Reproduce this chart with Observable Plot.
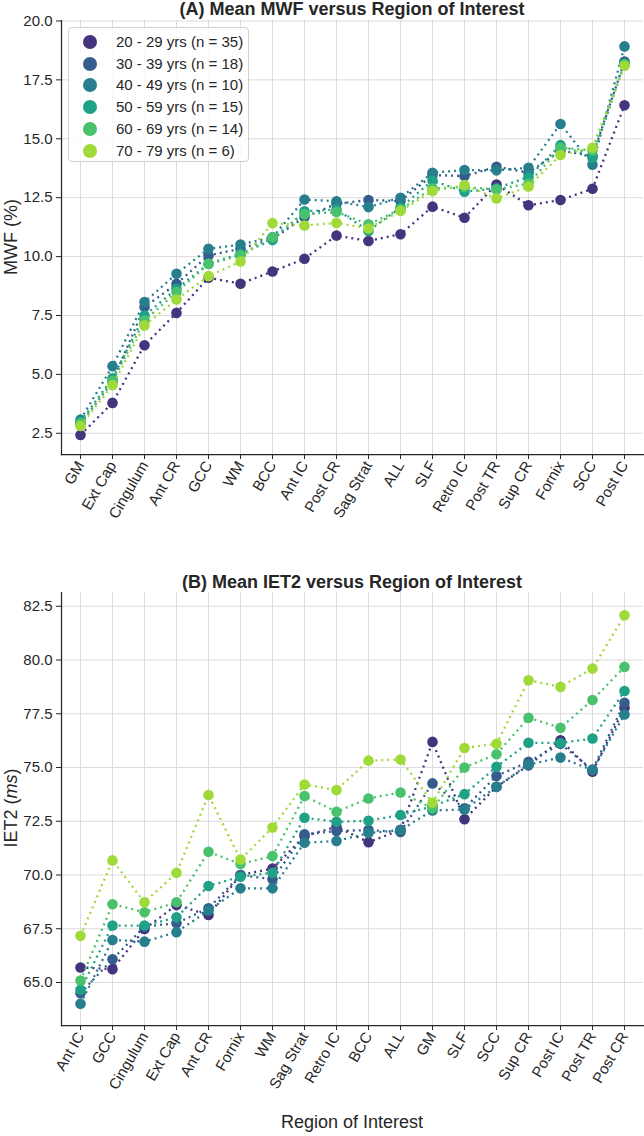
<!DOCTYPE html>
<html><head><meta charset="utf-8">
<script src="https://cdn.jsdelivr.net/npm/d3@7"></script>
<script src="https://cdn.jsdelivr.net/npm/@observablehq/plot@0.6"></script>
<style>
body{margin:0;background:#fff;font-family:"Liberation Sans",Arial,sans-serif;color:#262626}
#wrap{position:relative;width:644px;height:1136px;overflow:hidden}
.title{position:absolute;left:61px;width:582px;text-align:center;font-weight:bold;font-size:18px;line-height:18px;color:#262626}
.ylab{position:absolute;width:240px;height:22px;line-height:22px;text-align:center;font-size:18px;transform:rotate(-90deg);white-space:nowrap;color:#262626}
.xlab{position:absolute;left:61px;width:582px;text-align:center;font-size:18px;line-height:22px;color:#262626}
.panel{position:absolute;left:0}
#legend{position:absolute;left:68px;top:27px;width:181px;height:135px;border:1px solid #d0d0d0;border-radius:4px;background:rgba(255,255,255,0.85);box-sizing:border-box}
.lrow{position:absolute;left:0;height:22px;line-height:22px;font-size:15px;white-space:nowrap}
.lrow span.dot{position:absolute;left:14px;top:4px;width:14px;height:14px;border-radius:50%}
.lrow span.txt{position:absolute;left:47px;top:0}
</style></head>
<body><div id="wrap"></div>
<script>
// ---------- data ----------
const groups = ["20 - 29 yrs (n = 35)","30 - 39 yrs (n = 18)","40 - 49 yrs (n = 10)","50 - 59 yrs (n = 15)","60 - 69 yrs (n = 14)","70 - 79 yrs (n = 6)"];
const colors = ["#46337e","#365c8d","#277f8e","#1fa187","#4ac16d","#a0da39"];

const regionsA = ["GM","Ext Cap","Cingulum","Ant CR","GCC","WM","BCC","Ant IC","Post CR","Sag Strat","ALL","SLF","Retro IC","Post TR","Sup CR","Fornix","SCC","Post IC"];
const mwf2029 = [2.43,3.79,6.24,7.61,9.10,8.85,9.37,9.91,10.89,10.66,10.95,12.12,11.65,13.06,12.18,12.40,12.88,16.42];
const mwf3039 = [2.90,4.70,7.86,8.84,10.05,10.33,10.75,11.67,12.24,12.40,12.36,13.46,13.42,13.81,13.56,14.50,14.27,18.28];
const mwf4049 = [3.08,5.35,8.07,9.27,10.33,10.51,10.82,12.42,12.35,12.10,12.50,13.56,13.67,13.66,13.77,15.63,13.90,18.92];
const mwf5059 = [2.99,4.83,7.50,8.63,9.70,10.12,10.70,11.92,12.00,11.09,12.08,13.23,12.75,12.90,13.38,14.73,14.20,18.20];
const mwf6069 = [2.92,4.72,7.29,8.49,9.69,10.05,10.82,11.80,11.89,11.37,12.00,12.90,12.95,12.85,13.10,14.62,14.50,18.15];
const mwf7079 = [2.81,4.54,7.08,8.18,9.17,9.79,11.42,11.32,11.43,11.19,11.94,12.78,13.04,12.47,12.97,14.31,14.62,18.10];
const mwfTicks = [2.5,5.0,7.5,10.0,12.5,15.0,17.5,20.0];

const regionsB = ["Ant IC","GCC","Cingulum","Ext Cap","Ant CR","Fornix","WM","Sag Strat","Retro IC","BCC","ALL","GM","SLF","SCC","Sup CR","Post IC","Post TR","Post CR"];
const iet2029 = [65.70,65.62,67.49,68.60,68.14,70.00,70.30,71.80,72.25,71.52,72.10,76.19,72.59,74.10,75.10,76.27,74.80,77.78];
const iet3039 = [64.50,66.08,67.60,67.76,68.45,70.00,69.80,71.89,72.05,72.09,72.00,74.26,73.10,74.61,75.26,76.10,74.90,78.01];
const iet4049 = [64.01,66.98,66.90,67.34,68.35,69.38,69.38,71.50,71.58,71.95,72.09,73.00,73.05,74.10,75.14,75.46,74.88,77.47];
const iet5059 = [64.66,67.65,67.65,68.03,69.49,69.92,70.10,72.66,72.48,72.52,72.79,73.20,73.76,75.03,76.15,76.14,76.35,78.56];
const iet6069 = [65.09,68.64,68.27,68.73,71.08,70.51,70.88,73.67,72.94,73.56,73.84,73.10,75.00,75.62,77.31,76.85,78.14,79.68];
const iet7079 = [67.17,70.68,68.73,70.10,73.72,70.72,72.21,74.21,73.95,75.32,75.37,73.36,75.91,76.10,79.06,78.75,79.60,82.08];
const ietTicks = [65.0,67.5,70.0,72.5,75.0,77.5,80.0,82.5];

// ---------- drawing ----------
const wrap = document.getElementById("wrap");
const ink = "#262626";

function panel(cats, series, domain, ticks, top, height, marginBottom) {
  const rows = [];
  series.forEach((arr, i) => arr.forEach((v, j) => rows.push({group: groups[i], cat: cats[j], value: v, idx: i})));
  const marks = [
    Plot.gridX(cats, {stroke: "#dcdcdc", strokeOpacity: 1, strokeWidth: 1}),
    Plot.gridY(ticks, {stroke: "#dcdcdc", strokeOpacity: 1, strokeWidth: 1}),
    Plot.frame({anchor: "left", stroke: ink, strokeWidth: 1.25}),
    Plot.frame({anchor: "bottom", stroke: ink, strokeWidth: 1.25}),
    Plot.axisY(ticks, {tickFormat: d3.format(".1f"), tickSize: 5, tickPadding: 4, label: null, stroke: ink, fill: ink, fontSize: 15}),
    Plot.axisX({tickRotate: -60, tickSize: 5, tickPadding: 3, label: null, stroke: ink, fill: ink, fontSize: 15})
  ];
  groups.forEach((g, i) => {
    const sub = rows.filter(d => d.idx === i);
    marks.push(Plot.line(sub, {x: "cat", y: "value", stroke: colors[i], strokeWidth: 2.3, strokeDasharray: "2,4", strokeLinecap: "butt"}));
    marks.push(Plot.dot(sub, {x: "cat", y: "value", r: 5.3, fill: colors[i], stroke: "none"}));
  });
  const svg = Plot.plot({
    width: 644, height, marginTop: 20, marginBottom, marginLeft: 61, marginRight: 1,
    style: {fontFamily: "'Liberation Sans', Arial, sans-serif", fontSize: "15px", color: ink, background: "transparent", overflow: "visible"},
    x: {type: "point", domain: cats, padding: 0.5},
    y: {domain, ticks},
    marks
  });
  svg.classList.add("panel");
  svg.style.top = top + "px";
  svg.style.position = "absolute";
  wrap.appendChild(svg);
}

panel(regionsA, [mwf2029,mwf3039,mwf4049,mwf5059,mwf6069,mwf7079], [1.6, 20.02], mwfTicks, 0, 540, 86);
panel(regionsB, [iet2029,iet3039,iet4049,iet5059,iet6069,iet7079], [63.0, 83.14], ietTicks, 572, 540, 87);

function addDiv(cls, html, css) {
  const d = document.createElement("div");
  d.className = cls; d.innerHTML = html;
  Object.assign(d.style, css);
  wrap.appendChild(d);
  return d;
}
addDiv("title", "(A) Mean MWF versus Region of Interest", {top: "0px"});
addDiv("title", "(B) Mean IET2 versus Region of Interest", {top: "573px"});
addDiv("ylab", "MWF (%)", {left: (11 - 120) + "px", top: (237 - 11) + "px"});
addDiv("ylab", "IET2 (<i>ms</i>)", {left: (11 - 120) + "px", top: (808 - 11) + "px"});
addDiv("xlab", "Region of Interest", {top: "1111px"});

const legend = addDiv("", "", {});
legend.id = "legend";
groups.forEach((g, i) => {
  const r = document.createElement("div");
  r.className = "lrow";
  r.style.top = (3 + i * 21.7) + "px";
  r.innerHTML = `<span class="dot" style="background:${colors[i]}"></span><span class="txt">${g}</span>`;
  legend.appendChild(r);
});
</script>
</body></html>
